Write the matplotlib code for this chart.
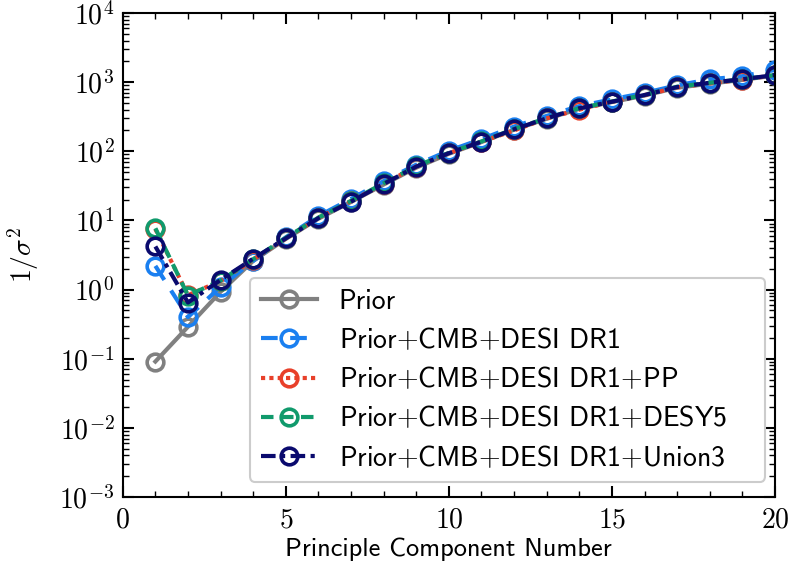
import numpy as np
import matplotlib
matplotlib.use("Agg")
import matplotlib.pyplot as plt

plt.rcParams['mathtext.fontset'] = 'cm'
plt.rcParams['axes.unicode_minus'] = False

# principal component index
pc = np.arange(1, 21)

# 1/sigma^2
prior = [0.091, 0.29, 0.93, 2.6, 5.4, 10.6, 18.5, 33, 58, 92, 136, 205, 295, 410, 515, 640, 830, 950, 1080, 1250]
cmb_desi = [2.2, 0.40, 1.1, 2.6, 5.7, 11.6, 20.5, 37, 64, 102, 150, 228, 325, 450, 565, 700, 900, 1100, 1220, 1500]
cmb_desi_pp = [7.5, 0.83, 1.33, 2.7, 5.5, 10.9, 19.0, 34, 60, 94, 138, 200, 300, 400, 520, 650, 840, 960, 1090, 1260]
cmb_desi_desy5 = [7.7, 0.82, 1.35, 2.75, 5.6, 11.0, 19.2, 34.5, 61, 95, 139, 210, 302, 420, 525, 655, 860, 980, 1100, 1270]
cmb_desi_union3 = [4.2, 0.65, 1.38, 2.8, 5.5, 10.8, 18.7, 33.7, 60, 94, 138, 208, 300, 419, 521, 652, 850, 980, 1100, 1270]

labels = ['Prior',
          r'Prior$+$CMB$+$DESI DR1',
          r'Prior$+$CMB$+$DESI DR1$+$PP',
          r'Prior$+$CMB$+$DESI DR1$+$DESY5',
          r'Prior$+$CMB$+$DESI DR1$+$Union3']
series = [prior, cmb_desi, cmb_desi_pp, cmb_desi_desy5, cmb_desi_union3]
colors = ['#808080', '#1a7ff0', '#e8402a', '#109a6c', '#0a0a6e']
styles = ['-', (0, (4, 3)), (0, (1, 1)), (0, (3, 1.8)), (0, (3.5, 1.3, 1, 1.3))]

fig = plt.figure(figsize=(7.92, 5.81), dpi=100)
ax = fig.add_axes([0.155, 0.1446, 0.8235, 0.833])

for y, lab, c, ls in zip(series, labels, colors, styles):
    ax.plot(pc, y, ls=ls, color=c, lw=3, marker='o', ms=12, mfc='none',
            mec=c, mew=2.6, label=lab)

ax.set_yscale('log')
ax.set_xlim(0, 20)
ax.set_ylim(1e-3, 1e4)
ax.set_xticks([0, 5, 10, 15, 20])
ax.set_xticks(np.arange(0, 21, 1), minor=True)
ax.set_xticklabels([f'${v}$' for v in [0, 5, 10, 15, 20]])
ax.set_yticks([10.0**k for k in range(-3, 5)])
ax.set_yticklabels([f'$10^{{{k}}}$' for k in range(-3, 5)])
ax.tick_params(which='both', direction='in', top=True, right=True, labelsize=20)
ax.tick_params(which='major', length=8, width=1.5)
ax.tick_params(which='minor', length=4, width=1.0)
ax.tick_params(axis='x', pad=6)
ax.tick_params(axis='y', pad=6)
for s in ax.spines.values():
    s.set_linewidth(1.5)

ax.set_xlabel('Principle Component Number', fontsize=19, family='cmss10', labelpad=3)
ax.set_ylabel(r'$1/\sigma^2$', fontsize=20)
ax.yaxis.set_label_coords(-0.125, 0.5)

leg = ax.legend(loc='lower left', bbox_to_anchor=(0.195, 0.031, 0.79, 0.4),
                mode='expand', prop={'family': 'cmss10', 'size': 20},
                handlelength=2.0, borderaxespad=0.0, labelspacing=0.45,
                edgecolor='#cccccc', framealpha=1.0)
leg.get_frame().set_linewidth(1.5)

fig.savefig('out.png', dpi=100)
